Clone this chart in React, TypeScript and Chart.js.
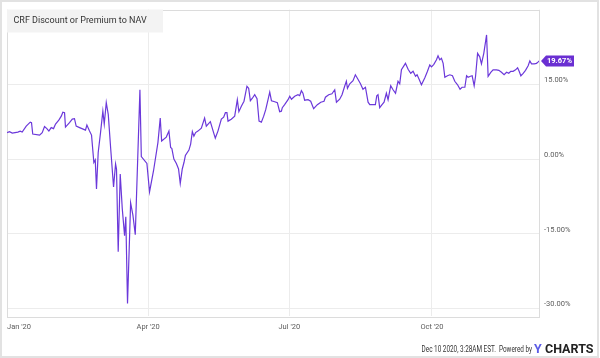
import React, { useEffect, useRef } from "react";
import { Chart, registerables } from "chart.js";

Chart.register(...registerables);

// Days since Jan 1 2020 for each observation
const dayOfYear = [
  0, 1.6, 3.4, 7.0, 8.5, 9.8, 12.4, 15.0, 15.8, 16.6, 21.0, 22.7, 24.2, 25.7, 27.0, 28.5, 30.0,
  31.3, 33.4, 35.0, 36.0, 37.1, 37.7, 40.3, 42.1, 43.5, 44.6, 46.8, 50.6, 51.5, 53.2, 54.5, 56.0,
  56.9, 57.7, 58.8, 60.3, 61.8, 62.7, 64.0, 65.3, 66.8, 68.7, 70.0, 70.6, 71.7, 73.0, 74.3, 75.8,
  76.6, 77.7, 79.7, 81.2, 82.7, 85.7, 86.6, 90.2, 91.9,
  94.5, 97.3, 98.8, 99.7, 102.7, 104.4, 105.5, 106.3, 107.6, 109.2, 110.6, 111.7, 113.0, 114.1,
  115.0, 117.3, 118.4, 119.5, 120.5, 121.6, 123.1, 125.3, 127.4, 128.5, 131.1, 133.2, 134.3, 136.0,
  138.2, 139.7, 140.8, 141.8, 142.5, 144.6, 146.8, 148.5, 149.5, 151.1, 152.8, 154.7, 155.8, 156.9,
  158.2, 159.7, 161.2, 162.5, 164.0, 165.5, 166.8, 168.3, 169.4, 170.5, 172.6, 174.3, 175.8, 176.9,
  177.5,
  179.0, 181.2, 182.3, 183.4, 185.5, 187.6, 188.7, 189.8, 190.8, 191.9, 194.1, 195.8, 197.7, 200.1,
  202.3, 204.4, 205.3, 207.4, 209.5, 211.3, 212.4, 214.5, 216.0, 217.7, 218.8, 219.5, 221.0, 223.1,
  224.6, 225.9, 227.9, 229.5, 231.1, 232.8, 233.9, 236.0, 237.5, 238.4, 239.2, 240.3, 241.8, 243.1,
  244.6, 245.7, 247.4, 248.9, 250.5, 252.1, 253.2, 254.3, 256.9, 258.6, 260.3, 261.8, 263.4, 264.4,
  265.7, 267.2, 269.4, 271.1, 272.6, 273.7, 275.2, 276.9, 277.9, 279.0, 280.1, 281.2, 282.3, 284.0,
  285.5, 287.2, 288.7, 290.5, 292.1, 293.4, 295.2, 296.3, 297.3, 298.8, 299.9, 301.2, 302.1, 303.4,
  304.8, 305.9, 307.4, 309.2, 310.2, 311.9, 313.4, 315.6, 317.1, 318.8, 320.5, 322.1, 323.5, 324.8,
  326.3, 327.9, 329.2, 330.2, 331.3, 332.8, 334.3, 336.0, 337.1, 338.2, 339.9, 341.4, 342.5, 343.0,
];

// CRF discount (-) / premium (+) to NAV, percent
const premiumPct = [
  5.3, 5.5, 5.2, 5.4, 5.6, 5.4, 6.6, 7.4, 7.3, 5.0, 4.8, 5.3, 6.5, 6.1, 5.6, 6.3, 6.1,
  7.0, 7.8, 8.6, 9.4, 9.3, 6.4, 7.3, 8.0, 8.1, 6.6, 6.3, 5.8, 6.8, 5.6, 4.8, -0.7,
  -0.2, -6.0, 1.3, 5.3, 9.6, 7.0, 11.3, 8.9, 2.3, -5.6, -1.0, -2.0, -18.6, -3.0, -9.9, -15.4,
  -11.6, -29.0, -8.8, -11.3, -15.2, 13.9, 0.5, -0.9, -6.6,
  -2.3, 3.3, 8.2, 3.6, 4.4, 5.6, 2.3, 2.1, 0.0, -0.9, -2.0, -4.9, -2.0, -0.7,
  0.7, 1.8, 3.0, 5.5, 4.6, 5.3, 5.6, 6.2, 8.2, 6.6, 7.5, 5.3, 4.2, 5.6,
  8.0, 8.4, 9.3, 9.3, 7.6, 8.0, 8.6, 11.9, 9.5, 10.6, 11.6, 14.6, 14.2, 11.7,
  12.2, 12.9, 12.1, 7.6, 7.4, 8.6, 9.9, 11.9, 13.4, 11.7, 11.5, 11.3, 9.5, 9.6,
  10.3,
  10.9, 11.9, 12.6, 12.0, 12.6, 12.9, 12.7, 13.7, 13.2, 11.8, 11.9, 11.6, 10.1, 10.9,
  11.4, 11.6, 12.4, 12.9, 13.1, 13.9, 11.4, 12.0, 12.9, 14.6, 15.6, 14.2, 15.1, 15.7,
  16.9, 16.2, 15.1, 14.0, 14.4, 11.4, 10.9, 10.9, 10.9, 12.7, 12.9, 10.3, 10.9, 11.4,
  13.2, 11.9, 14.7, 13.9, 13.2, 15.6, 15.1, 17.9, 19.2, 18.0, 17.2, 17.6, 16.6, 16.9,
  16.0, 14.9, 16.3, 17.6, 18.9, 18.5, 19.0, 19.9, 20.7, 19.9, 20.2, 19.2, 16.4, 16.7,
  16.9, 16.7, 15.6, 14.9, 14.0, 14.4, 14.4, 16.7, 16.4, 16.6, 16.7, 14.7, 16.6, 21.2,
  20.5, 19.1, 21.2, 24.9, 16.6, 17.4, 17.9, 17.9, 17.8, 17.4, 16.9, 17.4, 17.2, 17.6,
  17.6, 17.9, 18.3, 17.6, 16.7, 17.2, 17.8, 18.7, 19.7, 19.1, 19.1, 19.2, 19.5, 19.67,
];

const xTickDays = [0, 91, 182, 274, 343];
const xTickLabels = ["Jan '20", "Apr '20", "Jul '20", "Oct '20", ""];
const yTickValues = [-30, -15, 0, 15];
const seriesName = "CRF Discount or Premium to NAV";
const footerText = "Dec 10 2020, 3:28AM EST.  Powered by";

const LINE = "#6b38da";
const FLAG = "#6a2fd2";
const GRID = "#ececec";
const FONT = "Roboto";

const decorPlugin = {
  id: "decor",
  beforeDraw(chart: any) {
    const { ctx, width, height } = chart;
    ctx.save();
    ctx.fillStyle = "#ffffff";
    ctx.fillRect(0, 0, width, height);
    ctx.strokeStyle = "#e2e2e2";
    ctx.lineWidth = 2;
    ctx.strokeRect(1, 1, width - 3, height - 2);
    ctx.restore();
  },
  beforeDatasetsDraw(chart: any) {
    const { ctx, chartArea: a } = chart;
    ctx.save();
    ctx.strokeStyle = "#dcdcdc";
    ctx.lineWidth = 1;
    ctx.strokeRect(Math.round(a.left) + 0.5, Math.round(a.top) + 0.5, Math.round(a.right - a.left), Math.round(a.bottom - a.top));
    ctx.restore();
  },
  afterDraw(chart: any) {
    const { ctx, chartArea: a, scales } = chart;
    ctx.save();
    // legend box
    ctx.fillStyle = "#f3f3f3";
    ctx.fillRect(a.left, a.top, 156, 23);
    ctx.fillStyle = "#333333";
    ctx.font = `9px ${FONT}`;
    ctx.textBaseline = "middle";
    ctx.textAlign = "left";
    ctx.fillText(seriesName, a.left + 6.5, a.top + 11.5);

    // last value flag
    const n = premiumPct.length - 1;
    const px = scales.x.getPixelForValue(dayOfYear[n]);
    const py = scales.y.getPixelForValue(premiumPct[n]);
    const x0 = px + 2;
    ctx.fillStyle = FLAG;
    ctx.beginPath();
    ctx.moveTo(x0, py);
    ctx.lineTo(x0 + 5, py - 5.5);
    ctx.lineTo(x0 + 33, py - 5.5);
    ctx.lineTo(x0 + 33, py + 5.5);
    ctx.lineTo(x0 + 5, py + 5.5);
    ctx.closePath();
    ctx.fill();
    ctx.fillStyle = "#ffffff";
    ctx.font = `bold 7.5px ${FONT}`;
    ctx.textAlign = "left";
    ctx.fillText(premiumPct[n].toFixed(2) + "%", x0 + 6, py + 0.5);

    // footer
    ctx.save();
    ctx.translate(532, 352);
    ctx.scale(0.75, 1);
    ctx.fillStyle = "#333333";
    ctx.font = `8.5px ${FONT}`;
    ctx.textAlign = "right";
    ctx.textBaseline = "alphabetic";
    ctx.fillText(footerText, 0, 0);
    ctx.restore();
    ctx.textBaseline = "alphabetic";
    ctx.textAlign = "left";
    ctx.font = `bold 12.5px ${FONT}`;
    ctx.fillStyle = "#5b5ce6";
    ctx.fillText("Y", 534, 353);
    ctx.fillStyle = "#222222";
    ctx.fillText("CHARTS", 545, 353);
    ctx.restore();
  },
};

export default function App() {
  const ref = useRef<HTMLCanvasElement | null>(null);
  useEffect(() => {
    if (!ref.current) return;
    const chart = new Chart(ref.current, {
      type: "line",
      data: {
        datasets: [
          {
            label: seriesName,
            data: dayOfYear.map((d, i) => ({ x: d, y: premiumPct[i] })),
            borderColor: LINE,
            borderWidth: 1.2,
            pointRadius: 0,
            tension: 0,
            fill: false,
          },
        ],
      },
      options: {
        animation: false,
        responsive: false,
        layout: { padding: { left: 7, top: 7, right: 0, bottom: 0 } },
        plugins: { legend: { display: false }, tooltip: { enabled: false } },
        scales: {
          x: {
            type: "linear",
            min: 0,
            max: 343,
            afterBuildTicks: (s: any) => {
              s.ticks = xTickDays.map((v) => ({ value: v }));
            },
            afterFit: (s: any) => {
              s.height = 42;
            },
            ticks: {
              autoSkip: false,
              maxRotation: 0,
              align: "inner",
              padding: 7,
              color: "#5c5c5c",
              font: { family: FONT, size: 7.5 },
              callback: (_v: any, i: number) => xTickLabels[i],
            },
            grid: { color: GRID, drawTicks: false },
            border: { display: false },
          },
          y: {
            type: "linear",
            position: "right",
            min: -31.5,
            max: 30,
            afterBuildTicks: (s: any) => {
              s.ticks = yTickValues.map((v) => ({ value: v }));
            },
            afterFit: (s: any) => {
              s.width = 61;
            },
            ticks: {
              padding: 5,
              labelOffset: -4,
              color: "#5c5c5c",
              font: { family: FONT, size: 7.5 },
              callback: (v: any) => Number(v).toFixed(2) + "%",
            },
            grid: { color: GRID, drawTicks: false },
            border: { display: false },
          },
        },
      },
      plugins: [decorPlugin],
    });
    return () => chart.destroy();
  }, []);
  return (
    <div style={{ position: "fixed", left: 0, top: 0, width: 600, height: 358, background: "#fff" }}>
      <canvas ref={ref} width={600} height={358} style={{ display: "block" }} />
    </div>
  );
}
